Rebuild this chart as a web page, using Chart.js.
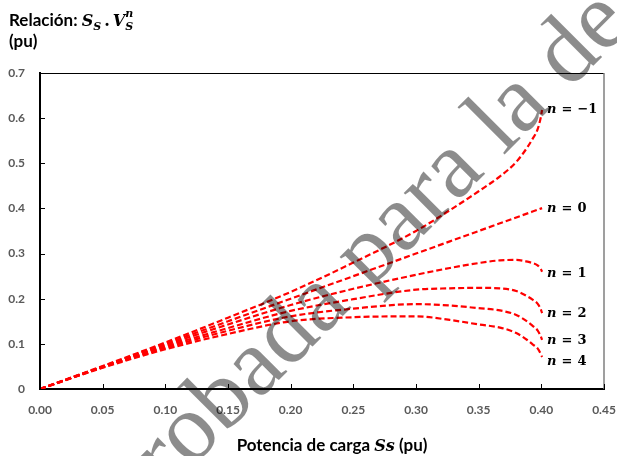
<!DOCTYPE html>
<html>
<head>
<meta charset="utf-8">
<script src="https://cdn.jsdelivr.net/npm/chart.js@4.4.1/dist/chart.umd.min.js"></script>
<style>
  html, body { margin: 0; padding: 0; background: #fff; }
  #wrap { width: 617px; height: 456px; position: relative; }
</style>
</head>
<body>
<div id="wrap"><canvas id="c"></canvas></div>
<script>
// Load power Ss (pu) along the curves
const loadPower = [0, 0.05, 0.10, 0.15, 0.20, 0.25, 0.30, 0.327, 0.35, 0.367, 0.38, 0.389, 0.393, 0.397, 0.3995, 0.4006];

// Ss · Vs^n (pu) for each exponent n
const relNm1 = [0, 0.051, 0.103, 0.158, 0.215, 0.280, 0.350, 0.396, 0.438, 0.471, 0.503, 0.536, 0.554, 0.575, 0.601, 0.618];
const relN0  = [0, 0.050, 0.100, 0.150, 0.200, 0.250, 0.300, 0.327, 0.350, 0.367, 0.380, 0.389, 0.393, 0.397, 0.3995, 0.4006];
const relN1  = [0, 0.049, 0.097, 0.143, 0.186, 0.222, 0.253, 0.268, 0.279, 0.285, 0.286, 0.282, 0.279, 0.274, 0.266, 0.260];
const relN2  = [0, 0.049, 0.094, 0.135, 0.173, 0.199, 0.220, 0.223, 0.224, 0.223, 0.217, 0.205, 0.198, 0.189, 0.177, 0.168];
const relN3  = [0, 0.048, 0.091, 0.129, 0.161, 0.178, 0.188, 0.185, 0.179, 0.174, 0.164, 0.149, 0.140, 0.130, 0.117, 0.109];
const relN4  = [0, 0.047, 0.088, 0.122, 0.150, 0.159, 0.161, 0.153, 0.143, 0.136, 0.124, 0.108, 0.099, 0.090, 0.078, 0.071];

const exponents = ['\u22121', '0', '1', '2', '3', '4'];
const xTickLabels = ['0.00', '0.05', '0.10', '0.15', '0.20', '0.25', '0.30', '0.35', '0.40', '0.45'];
const yTickLabels = ['0', '0.1', '0.2', '0.3', '0.4', '0.5', '0.6', '0.7'];

const seriesList = [relNm1, relN0, relN1, relN2, relN3, relN4];

const datasets = seriesList.map((vals, i) => ({
  label: 'n = ' + exponents[i],
  data: loadPower.map((p, k) => ({ x: p, y: vals[k] })),
  borderColor: '#ff0000',
  borderWidth: 2.2,
  borderDash: [6, 3],
  pointRadius: 0,
  fill: false,
  cubicInterpolationMode: 'monotone'
}));

const SANS = 'Lato, "Open Sans", sans-serif';
const SERIF = '"DejaVu Serif", serif';

function seg(ctx, x1, y1, x2, y2) {
  ctx.beginPath(); ctx.moveTo(x1, y1); ctx.lineTo(x2, y2); ctx.stroke();
}

// Frame, inward tick marks, titles, curve labels and the overlay stamp
const decor = {
  id: 'decor',
  afterDraw(chart) {
    const { ctx, chartArea: a, scales: { x, y } } = chart;
    ctx.save();

    // top and right edges of the plot box
    ctx.strokeStyle = '#000'; ctx.lineWidth = 1;
    seg(ctx, a.left, a.top + 0.5, a.right, a.top + 0.5);
    ctx.strokeStyle = '#7f7f7f'; ctx.lineWidth = 1.5;
    seg(ctx, a.right, a.top, a.right, a.bottom);

    // inward tick marks
    ctx.strokeStyle = '#000'; ctx.lineWidth = 1;
    x.ticks.forEach(t => {
      const px = Math.round(x.getPixelForValue(t.value)) + 0.5;
      seg(ctx, px, a.bottom, px, a.bottom - 5);
    });
    y.ticks.forEach(t => {
      const py = Math.round(y.getPixelForValue(t.value)) + 0.5;
      seg(ctx, a.left, py, a.left + 5, py);
    });

    // curve end labels
    const nudge = [0, 0, 2, 0, 1, 5];
    ctx.fillStyle = '#000';
    ctx.textBaseline = 'middle';
    ctx.textAlign = 'left';
    seriesList.forEach((vals, i) => {
      const last = vals.length - 1;
      let px = x.getPixelForValue(loadPower[last]) + 5;
      const py = y.getPixelForValue(vals[last]) + nudge[i];
      ctx.font = 'bold italic 13px ' + SERIF;
      ctx.fillText('n', px, py);
      px += ctx.measureText('n').width + 5;
      ctx.font = 'bold 13px ' + SERIF;
      ctx.fillText('=', px, py);
      px += ctx.measureText('=').width + 5;
      ctx.fillText(exponents[i], px, py);
    });

    // y-axis title (top left)
    ctx.textBaseline = 'alphabetic';
    let tx = 9;
    ctx.font = 'bold 17px ' + SANS;
    ctx.fillText('Relación: ', tx, 26);
    tx += ctx.measureText('Relación: ').width;
    ctx.font = 'bold italic 16px ' + SERIF;
    ctx.fillText('S', tx, 26);
    tx += ctx.measureText('S').width;
    ctx.font = 'bold italic 11px ' + SERIF;
    ctx.fillText('S', tx, 30);
    tx += ctx.measureText('S').width + 3;
    ctx.font = 'bold 16px ' + SERIF;
    ctx.fillText('.', tx, 26);
    tx += ctx.measureText('.').width + 3;
    ctx.font = 'bold italic 16px ' + SERIF;
    ctx.fillText('V', tx, 26);
    tx += ctx.measureText('V').width;
    ctx.font = 'bold italic 11px ' + SERIF;
    ctx.fillText('n', tx, 17);
    ctx.fillText('S', tx, 30);
    ctx.font = 'bold 17px ' + SANS;
    ctx.fillText('(pu)', 9, 47);

    // x-axis title
    const p1 = 'Potencia de carga ', p2 = 'Ss', p3 = ' (pu)';
    ctx.font = 'bold 17px ' + SANS;
    const w1 = ctx.measureText(p1).width, w3 = ctx.measureText(p3).width;
    ctx.font = 'bold italic 16px ' + SERIF;
    const w2 = ctx.measureText(p2).width;
    let bx = 332 - (w1 + w2 + w3) / 2;
    const by = 451;
    ctx.font = 'bold 17px ' + SANS;
    ctx.fillText(p1, bx, by); bx += w1;
    ctx.font = 'bold italic 16px ' + SERIF;
    ctx.fillText(p2, bx, by); bx += w2;
    ctx.font = 'bold 17px ' + SANS;
    ctx.fillText(p3, bx, by);

    // diagonal stamp across the page
    const stamp = 'aprobada para la defensa';
    ctx.font = '96px "Liberation Serif", serif';
    const lead = ctx.measureText('aprobada para l').width;
    const ang = -Math.PI / 4;
    const ox = 522 - lead * Math.cos(ang);
    const oy = 137 - lead * Math.sin(ang);
    ctx.translate(ox, oy);
    ctx.rotate(ang);
    ctx.fillStyle = 'rgba(0,0,0,0.45)';
    ctx.fillText(stamp, 0, 0);

    ctx.restore();
  }
};

new Chart(document.getElementById('c'), {
  type: 'line',
  data: { datasets },
  plugins: [decor],
  options: {
    responsive: true,
    maintainAspectRatio: false,
    animation: false,
    layout: { padding: { top: 73, right: 13, left: 0, bottom: 0 } },
    plugins: { legend: { display: false }, tooltip: { enabled: false } },
    scales: {
      x: {
        type: 'linear',
        min: 0, max: 0.45,
        afterFit(s) { s.height = 67; s.paddingLeft = 0; s.paddingRight = 0; },
        grid: { display: false, drawTicks: false },
        border: { display: true, color: '#000', width: 2 },
        ticks: {
          stepSize: 0.05,
          padding: 14,
          color: '#595959',
          font: { family: SANS, weight: 'bold', size: 12 },
          maxRotation: 0,
          callback: (v, i) => xTickLabels[i]
        }
      },
      y: {
        type: 'linear',
        min: 0, max: 0.7,
        afterFit(s) { s.width = 40; s.paddingTop = 0; s.paddingBottom = 0; },
        grid: { display: false, drawTicks: false },
        border: { display: true, color: '#000', width: 2 },
        ticks: {
          stepSize: 0.1,
          padding: 15,
          color: '#595959',
          font: { family: SANS, weight: 'bold', size: 12 },
          callback: (v, i) => yTickLabels[i]
        }
      }
    }
  }
});
</script>
</body>
</html>
